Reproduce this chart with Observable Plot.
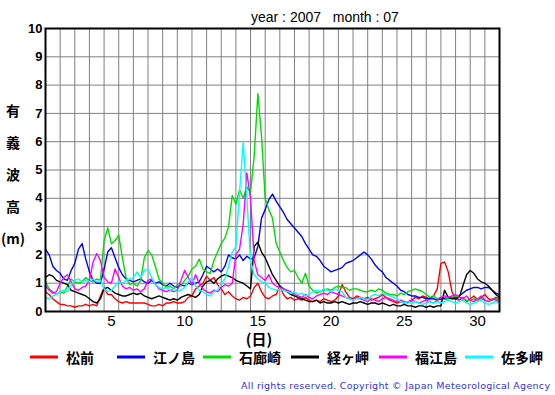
<!DOCTYPE html>
<html>
<head>
<meta charset="utf-8">
<script src="https://cdn.jsdelivr.net/npm/d3@7"></script>
<script src="https://cdn.jsdelivr.net/npm/@observablehq/plot@0.6"></script>
<style>
  html, body { margin: 0; padding: 0; background: #fff; }
  #chart svg { display: block; }
</style>
</head>
<body>
<div id="chart"></div>
<script>
// ---- data (significant wave height, m; 6-hourly samples, July 2007) ----
const titleText = "year : 2007   month : 07";
const xTicks = [5, 10, 15, 20, 25, 30];
const yTicks = [0, 1, 2, 3, 4, 5, 6, 7, 8, 9, 10];
const stationNames = ["松前", "江ノ島", "石廊崎", "経ヶ岬", "福江島", "佐多岬"];
const stationColors = ["#ff0000", "#0000ff", "#00dd00", "#000000", "#ff00ff", "#00ffff"];
const yTitleChars = ["有", "義", "波", "高", "(m)"];
const xTitle = "(日)";
const copyright = "All rights reserved. Copyright © Japan Meteorological Agency";

// sample times: day 1 00h ... day 32 00h (axis units: day d 00h = d - 0.5)
const times = d3.range(125).map(i => 0.5 + i * 0.25);

const matsumae = [0.7,0.6,0.45,0.35,0.25,0.25,0.2,0.2,0.15,0.2,0.2,0.25,0.2,0.25,0.2,0.55,0.85,0.6,0.6,0.45,
0.35,0.3,0.35,0.3,0.3,0.3,0.3,0.3,0.25,0.2,0.2,0.25,0.2,0.3,0.3,0.35,0.3,0.3,0.35,0.5,
0.55,0.8,0.9,1.0,1.25,1.1,1.2,0.95,0.8,0.6,0.7,0.55,0.45,0.4,0.5,0.45,0.55,0.85,1.0,0.7,
0.5,0.45,0.55,0.6,0.9,0.6,0.45,0.5,0.4,0.45,0.4,0.5,0.4,0.35,0.4,0.35,0.45,0.4,0.35,0.4,
0.55,0.95,0.7,0.5,0.45,0.55,0.5,0.45,0.5,0.4,0.45,0.5,0.6,0.5,0.4,0.35,0.3,0.35,0.3,0.35,
0.4,0.5,0.45,0.55,0.5,0.45,0.55,0.8,1.7,1.75,1.4,0.7,0.45,0.4,0.5,0.35,0.45,0.55,0.4,0.5,
0.6,0.45,0.4,0.5,0.45];

const enoshima = [2.2,2.0,1.6,1.45,1.35,1.15,1.1,1.45,1.7,2.2,2.4,1.85,1.4,1.1,1.0,1.0,1.5,2.1,2.25,1.9,
1.55,1.3,1.15,1.1,1.05,1.1,1.15,1.05,1.0,1.1,1.0,1.05,0.95,0.9,1.0,0.9,0.85,0.95,0.9,1.0,
0.95,1.0,1.05,1.3,1.6,1.5,1.4,1.5,1.4,1.6,2.0,1.9,1.85,2.0,1.8,1.95,1.85,1.9,2.3,3.3,
3.6,3.95,4.15,3.9,3.7,3.5,3.25,3.1,2.95,2.8,2.65,2.4,2.2,2.0,1.95,1.8,1.6,1.5,1.4,1.45,
1.5,1.55,1.7,1.75,1.8,1.9,2.0,2.1,2.0,1.85,1.65,1.5,1.4,1.2,1.1,1.0,0.9,0.75,0.7,0.6,
0.55,0.55,0.5,0.5,0.45,0.45,0.45,0.4,0.45,0.45,0.45,0.5,0.5,0.55,0.65,0.75,0.8,0.85,0.85,0.8,
0.85,0.85,0.75,0.65,0.6];

const irozaki = [1.05,0.8,0.7,0.6,0.7,0.65,0.9,1.15,1.05,1.0,1.05,1.2,1.1,1.05,1.15,1.1,2.5,2.95,2.4,2.5,
2.7,1.9,1.2,0.95,1.0,0.9,1.1,1.9,2.15,2.0,1.6,1.15,1.0,0.85,0.9,0.8,0.95,0.9,1.1,1.25,
1.5,1.6,1.85,1.5,1.4,1.35,1.8,2.1,2.4,2.6,3.0,4.1,3.8,4.3,4.0,4.4,4.2,5.5,7.7,6.2,
4.0,3.6,3.3,2.4,2.1,1.8,1.55,1.4,1.45,1.2,1.0,1.35,0.9,0.75,0.65,0.7,0.75,0.8,0.75,0.85,
0.9,0.85,0.85,0.75,0.8,0.8,0.75,0.7,0.7,0.75,0.7,0.8,0.75,0.65,0.6,0.6,0.55,0.65,0.6,0.7,
0.75,0.8,0.75,0.7,0.6,0.5,0.55,0.45,0.5,0.5,0.45,0.5,0.55,0.5,0.45,0.4,0.4,0.45,0.4,0.45,
0.4,0.35,0.4,0.45,0.4];

const kyogamisaki = [1.2,1.3,1.25,1.1,1.05,1.0,0.95,0.75,0.7,0.65,0.6,0.55,0.45,0.35,0.3,0.45,0.8,0.85,0.75,0.65,
0.6,0.55,0.55,0.6,0.65,0.6,0.65,0.55,0.5,0.45,0.5,0.55,0.5,0.45,0.4,0.45,0.4,0.5,0.55,0.6,
0.55,0.5,0.6,0.9,1.05,1.1,1.0,1.15,1.25,1.3,1.25,1.2,1.1,1.05,1.0,0.9,0.8,2.3,2.45,2.1,
1.9,1.6,1.3,1.1,0.9,0.8,0.7,0.6,0.55,0.5,0.45,0.4,0.35,0.35,0.4,0.3,0.35,0.3,0.3,0.35,
0.3,0.35,0.3,0.25,0.3,0.3,0.35,0.3,0.25,0.3,0.3,0.25,0.3,0.25,0.2,0.25,0.2,0.2,0.25,0.2,
0.2,0.15,0.2,0.2,0.15,0.2,0.15,0.2,0.2,0.75,0.5,0.45,0.45,0.5,0.9,1.3,1.45,1.35,1.15,1.05,
1.0,0.9,0.75,0.6,0.5];

const fukue = [0.9,0.75,0.65,0.7,1.0,1.2,1.3,1.05,0.8,0.75,0.85,0.9,1.1,1.75,2.05,1.8,1.2,1.05,1.0,1.5,
1.2,0.9,0.8,0.85,0.75,0.8,0.7,0.8,1.1,1.15,0.95,0.8,0.75,0.7,0.75,0.7,0.75,1.1,1.45,1.2,
0.95,1.3,1.0,0.8,0.7,0.65,0.75,0.7,0.85,0.95,0.9,1.0,2.0,2.2,3.1,4.9,4.0,1.8,1.3,1.2,
1.1,1.3,1.0,0.9,0.85,0.8,0.75,0.7,0.6,0.55,0.5,0.6,0.5,0.45,0.55,0.6,0.65,0.6,0.7,0.65,
0.6,0.55,0.5,0.45,0.4,0.5,0.45,0.4,0.35,0.45,0.4,0.35,0.45,0.5,0.45,0.4,0.35,0.4,0.35,0.3,
0.4,0.35,0.3,0.35,0.4,0.35,0.3,0.4,0.5,0.55,0.5,0.55,0.6,0.5,0.45,0.55,0.4,0.35,0.45,0.55,
0.4,0.35,0.45,0.4,0.35];

const satamisaki = [0.5,0.45,0.55,0.6,0.7,0.75,0.7,0.95,1.1,1.15,1.05,1.1,1.05,1.15,1.05,1.1,0.8,0.7,0.75,0.9,
1.05,1.0,1.1,1.15,1.2,1.4,1.2,1.45,1.5,1.2,0.95,0.85,0.8,0.85,0.75,0.8,0.7,0.75,0.85,1.05,
1.2,0.9,0.75,0.7,0.6,0.55,0.7,0.75,1.0,1.15,1.6,2.1,2.3,4.2,6.0,4.0,1.8,1.3,1.15,1.05,
1.0,0.85,0.8,0.75,0.8,0.75,0.7,0.65,0.7,0.6,0.65,0.55,0.6,0.7,0.75,0.7,0.8,0.75,0.7,0.8,
0.75,0.7,0.5,0.45,0.4,0.45,0.5,0.45,0.4,0.55,0.6,0.55,0.65,0.6,0.55,0.5,0.45,0.35,0.3,0.35,
0.3,0.35,0.3,0.25,0.3,0.35,0.3,0.35,0.3,0.35,0.4,0.35,0.3,0.35,0.4,0.3,0.25,0.3,0.35,0.4,
0.3,0.25,0.3,0.35,0.3];

const seriesValues = [matsumae, enoshima, irozaki, kyogamisaki, fukue, satamisaki];

// long table for Plot
const rows = [];
seriesValues.forEach((vals, s) => {
  vals.forEach((v, i) => rows.push({t: times[i], h: v, station: stationNames[s]}));
});

const W = 555, H = 395;
const mL = 45, mR = 56, mT = 28, mB = 84;

const plot = Plot.plot({
  width: W,
  height: H,
  marginLeft: mL,
  marginRight: mR,
  marginTop: mT,
  marginBottom: mB,
  style: {background: "#fff", fontFamily: "'Liberation Sans', Arial, sans-serif", color: "#000"},
  x: {domain: [0.5, 31.5]},
  y: {domain: [0, 10]},
  color: {domain: stationNames, range: stationColors},
  marks: [
    Plot.ruleX(d3.range(1.5, 31.5, 1), {stroke: "#808080", strokeWidth: 1}),
    Plot.ruleY(yTicks.slice(1, -1), {stroke: "#808080", strokeWidth: 1}),
    ...stationNames.map((name) =>
      Plot.line(rows.filter(d => d.station === name), {
        x: "t", y: "h", stroke: "station", strokeWidth: 1.4, strokeLinejoin: "round"
      })
    ),
    Plot.frame({stroke: "#000", strokeWidth: 2}),
    Plot.axisY({ticks: yTicks, tickSize: 0, tickPadding: 3, fontSize: 13, fontWeight: "bold", label: null}),
    Plot.axisX({ticks: xTicks, tickSize: 0, tickPadding: 4, fontSize: 15, label: null, tickFormat: d => String(d)})
  ]
});

document.getElementById("chart").appendChild(plot);

// ---- extra annotations (title, axis titles, legend, copyright) ----
const svg = d3.select(plot);
const cjk = "'Noto Sans CJK JP', 'Noto Sans', sans-serif";

svg.append("text")
  .attr("x", 251).attr("y", 22)
  .attr("text-anchor", "start")
  .attr("font-family", "'Liberation Sans', Arial, sans-serif")
  .attr("font-size", 14)
  .attr("xml:space", "preserve")
  .style("white-space", "pre")
  .text(titleText);

yTitleChars.forEach((c, i) => {
  svg.append("text")
    .attr("x", 13).attr("y", 110 + i * 32)
    .attr("text-anchor", "middle")
    .attr("dominant-baseline", "central")
    .attr("font-family", cjk)
    .attr("font-weight", "bold")
    .attr("font-size", 14)
    .text(c);
});

svg.append("text")
  .attr("x", 259).attr("y", 338)
  .attr("text-anchor", "middle")
  .attr("dominant-baseline", "central")
  .attr("font-family", cjk)
  .attr("font-size", 15)
  .attr("font-weight", "bold")
  .text(xTitle);

const legX = [30, 117, 203, 291, 379, 465];
stationNames.forEach((name, i) => {
  svg.append("line")
    .attr("x1", legX[i]).attr("x2", legX[i] + 28)
    .attr("y1", 357).attr("y2", 357)
    .attr("stroke", stationColors[i]).attr("stroke-width", 3);
  svg.append("text")
    .attr("x", legX[i] + 36).attr("y", 357)
    .attr("text-anchor", "start")
    .attr("dominant-baseline", "central")
    .attr("font-family", cjk)
    .attr("font-weight", "bold")
    .attr("font-size", 14)
    .text(name);
});

svg.append("text")
  .attr("x", 241).attr("y", 389)
  .attr("text-anchor", "start")
  .attr("font-family", "'DejaVu Sans', Verdana, sans-serif")
  .attr("font-size", 9.5)
  .attr("fill", "#3333dd")
  .attr("textLength", 309)
  .attr("lengthAdjust", "spacing")
  .text(copyright);
</script>
</body>
</html>
